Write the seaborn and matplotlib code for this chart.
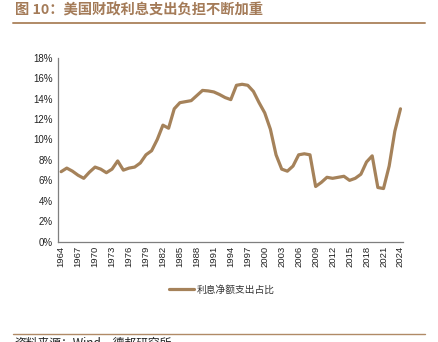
import matplotlib
matplotlib.use("Agg")
import matplotlib.pyplot as plt
from matplotlib.lines import Line2D
from matplotlib.ticker import FixedLocator, NullFormatter, FuncFormatter
import seaborn as sns
import pandas as pd

years = list(range(1964, 2025))
share = [6.85, 7.2, 6.9, 6.5, 6.2, 6.8, 7.3, 7.1, 6.75, 7.1,
         7.9, 7.0, 7.2, 7.3, 7.7, 8.5, 8.9, 10.0, 11.4, 11.1,
         13.0, 13.6, 13.7, 13.8, 14.3, 14.8, 14.75, 14.65, 14.4, 14.1,
         13.9, 15.3, 15.4, 15.3, 14.7, 13.6, 12.6, 11.0, 8.5, 7.1,
         6.9, 7.4, 8.5, 8.6, 8.5, 5.4, 5.8, 6.3, 6.2, 6.3,
         6.4, 6.0, 6.2, 6.6, 7.8, 8.4, 5.3, 5.2, 7.4, 10.8,
         13.0]
series_name = "利息净额支出占比"
title = "图 10：美国财政利息支出负担不断加重"
source = "资料来源：Wind，德邦研究所"
yticks = [0, 2, 4, 6, 8, 10, 12, 14, 16, 18]
label_years = years[::3]

df = pd.DataFrame({"year": years, "share": share})

sns.set_theme(style="white")
plt.rcParams['font.family'] = ['Noto Sans CJK SC', 'DejaVu Sans']

W, H = 439, 342
fig = plt.figure(figsize=(W / 100, H / 100), dpi=100)
ax = fig.add_axes([58.3 / W, 1 - 241.7 / H, (403.3 - 58.3) / W, (241.7 - 57.7) / H])

line_color = "#A5825A"
brown = "#A47B58"
gray = "#7F7F7F"

sns.lineplot(data=df, x="year", y="share", ax=ax, color=line_color,
             linewidth=2.3, label=series_name, legend=False)

ax.set_xlim(years[0] - 0.5, years[-1] + 0.5)
ax.set_ylim(yticks[0], yticks[-1])
ax.set_xlabel("")
ax.set_ylabel("")

# Category-style x axis: tick marks between categories, labels centered
ax.xaxis.set_major_locator(FixedLocator([y - 0.5 for y in years[::3]]))
ax.xaxis.set_major_formatter(NullFormatter())
ax.xaxis.set_minor_locator(FixedLocator(label_years))
ax.xaxis.set_minor_formatter(FuncFormatter(lambda v, p: f"{int(round(v))}"))
ax.tick_params(axis="x", which="major", direction="in", length=3, width=0.8, color=gray)
ax.tick_params(axis="x", which="minor", length=0, labelsize=6.8, labelrotation=90,
               pad=3, labelcolor="#222222")
for lbl in ax.xaxis.get_minorticklabels():
    lbl.set_family(["Liberation Sans", "DejaVu Sans"])

ax.set_yticks(yticks)
ax.yaxis.set_major_formatter(FuncFormatter(lambda v, p: f"{int(v)}%"))
ax.tick_params(axis="y", direction="in", length=3, width=0.8, color=gray,
               labelsize=7, pad=4, labelcolor="#222222")
for lbl in ax.get_yticklabels():
    lbl.set_family(["Liberation Sans", "DejaVu Sans"])

for side in ["top", "right"]:
    ax.spines[side].set_visible(False)
for side in ["left", "bottom"]:
    ax.spines[side].set_color(gray)
    ax.spines[side].set_linewidth(0.9)

# Legend
handle = Line2D([], [], color=line_color, linewidth=2.3)
fig.legend([handle], [series_name], loc="center", bbox_to_anchor=(222 / W, 1 - 289.5 / H),
           frameon=False, fontsize=7, handlelength=2.6, handletextpad=0.3,
           labelcolor="#333333")

# Title and rules
fig.text(15 / W, 1 - 10.5 / H, title, fontsize=10.3, fontweight="bold", color=brown,
         ha="left", va="center")
fig.add_artist(Line2D([13 / W, 425 / W], [1 - 22.5 / H, 1 - 22.5 / H],
                      color="#B08A66", linewidth=1.4))
fig.add_artist(Line2D([13 / W, 425 / W], [1 - 334 / H, 1 - 334 / H],
                      color="#B08A66", linewidth=1.0))
fig.text(14 / W, 1 - 343 / H, source, fontsize=8.5, color="#222222",
         ha="left", va="center")

fig.savefig("out.png", dpi=100)
